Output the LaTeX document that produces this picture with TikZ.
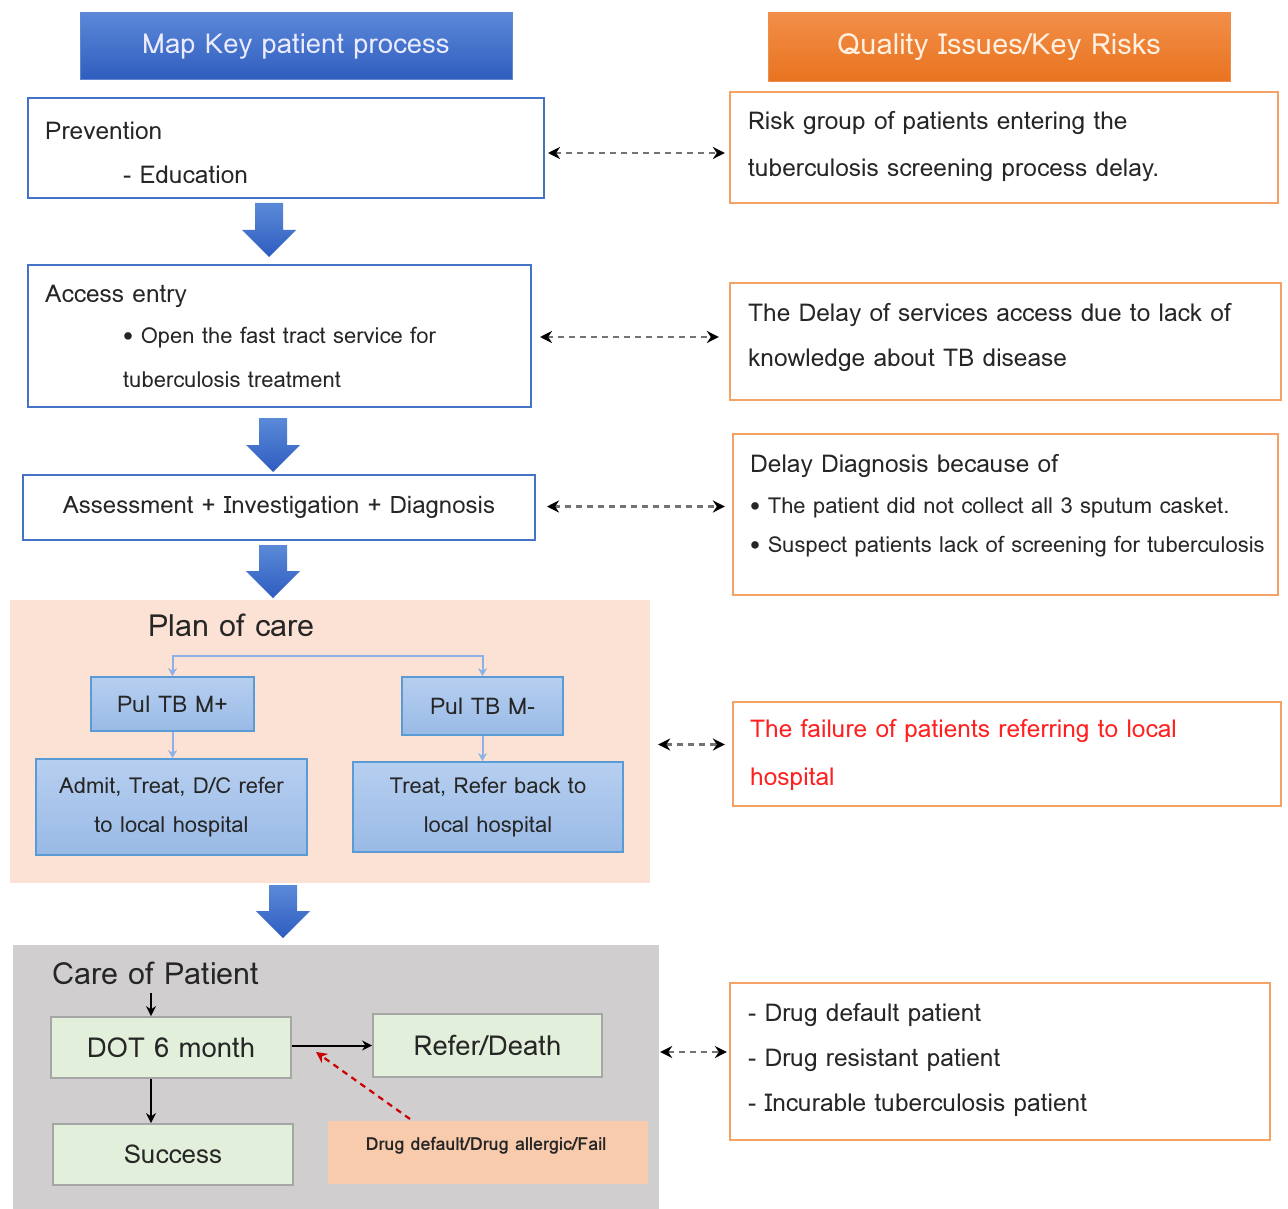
\documentclass[tikz,border=0pt]{standalone}
\usepackage{fontspec}
\setmainfont{Loma}
\usetikzlibrary{arrows.meta,calc}
\definecolor{hdrblue}{HTML}{3A69C6}
\definecolor{hdrbluetop}{HTML}{5B88D8}
\definecolor{hdrbluebot}{HTML}{2F5DBE}
\definecolor{hdrorgtop}{HTML}{F28E48}
\definecolor{hdrorgbot}{HTML}{E8731F}
\definecolor{boxblue}{HTML}{4472C4}
\definecolor{boxorange}{HTML}{F4A266}
\definecolor{planfill}{HTML}{FBE2D5}
\definecolor{carefill}{HTML}{D0CECE}
\definecolor{pultop}{HTML}{B7CFF0}
\definecolor{pulbot}{HTML}{99BAE6}
\definecolor{pulline}{HTML}{5B9BD5}
\definecolor{conblue}{HTML}{8DB1E6}
\definecolor{greenfill}{HTML}{E2EFDA}
\definecolor{greenline}{HTML}{A6A6A6}
\definecolor{drugfill}{HTML}{F8CBAD}
\definecolor{txtc}{HTML}{262626}
\definecolor{redtxt}{HTML}{FF2020}
\definecolor{arrtop}{HTML}{5B8AD8}
\definecolor{arrbot}{HTML}{2E5CC0}
\tikzset{
  hdrL/.style={draw=hdrblue!80!white, line width=1pt, top color=hdrbluetop, bottom color=hdrbluebot, text=white!92!blue, font=\fontsize{27.5}{32}\selectfont},
  hdrR/.style={draw=hdrorgbot!80!white, line width=1pt, top color=hdrorgtop, bottom color=hdrorgbot, text=white!88!orange, font=\fontsize{29}{34}\selectfont},
  procbox/.style={draw=boxblue, line width=2pt, fill=white},
  riskbox/.style={draw=boxorange, line width=2.2pt, fill=white},
  txt/.style={text=txtc, font=\fontsize{24.5}{28}\selectfont, inner sep=0pt, anchor=west},
  smtxt/.style={text=txtc, font=\fontsize{22}{26}\selectfont, inner sep=0pt, anchor=west},
  pulbox/.style={draw=pulline, line width=1.8pt, top color=pultop, bottom color=pulbot, text=txtc, font=\fontsize{22}{39}\selectfont, align=center},
  greenbox/.style={draw=greenline, line width=1.8pt, fill=greenfill, text=txtc, font=\fontsize{27.5}{32}\selectfont},
  title/.style={text=txtc, font=\fontsize{30.5}{36}\selectfont, inner sep=0pt, anchor=west},
  dbl/.style={draw=black!55, line width=2.4pt, dash pattern=on 6pt off 5pt, {Stealth[length=12pt,width=12pt,black]}-{Stealth[length=12pt,width=12pt,black]}},
  conn/.style={draw=conblue, line width=2pt, -{Stealth[length=8pt,width=9pt]}},
  blk/.style={draw=black, line width=2pt, -{Stealth[length=10pt,width=10pt]}},
  blockarr/.style={top color=arrtop, bottom color=arrbot, draw=none}
}
\newcommand{\blockarrow}[3]{% x, ytop, ytip
  \path[blockarr] (#1-14,#2) -- (#1+14,#2) -- (#1+14,#3-27) -- (#1+27,#3-27) -- (#1,#3) -- (#1-27,#3-27) -- (#1-14,#3-27) -- cycle;}
\begin{document}
\begin{tikzpicture}[x=1pt,y=-1pt]
\useasboundingbox (0,0) rectangle (1288,1209);
% headers
\node[hdrL, minimum width=432pt, minimum height=67pt] (hL) at (296,46.5) {Map Key patient process};
\node[hdrR, minimum width=462pt, minimum height=69pt] (hR) at (999,47.5) {Quality Issues/Key Risks};
% process boxes
\node[procbox, minimum width=516pt, minimum height=100pt] (prev) at (286,148) {};
\node[txt] at (45,131) {Prevention};
\node[txt] at (123,175) {- Education};
\node[procbox, minimum width=503pt, minimum height=142pt] (acc) at (279.5,336) {};
\node[txt] at (45,296) {Access entry};
\node[smtxt] at (123,338) {\textbullet\ Open the fast tract service for};
\node[smtxt] at (123,380) {tuberculosis treatment};
\node[procbox, minimum width=512pt, minimum height=65pt, text=txtc, font=\fontsize{24}{28}\selectfont] (ass) at (279,507.5) {Assessment + Investigation + Diagnosis};
% block arrows
\blockarrow{269}{203}{257}
\blockarrow{273}{418}{472}
\blockarrow{273}{545}{598}
\blockarrow{283}{885}{938}
% plan of care
\node[fill=planfill, minimum width=640pt, minimum height=283pt, inner sep=0pt] (plan) at (330,741.5) {};
\node[title] at (148,625) {Plan of care};
\node[pulbox, minimum width=163pt, minimum height=54pt, font=\fontsize{23}{28}\selectfont] (mp) at (172.5,704) {Pul TB M+};
\node[pulbox, minimum width=161pt, minimum height=58pt, font=\fontsize{23}{28}\selectfont] (mm) at (482.5,706) {Pul TB M-};
\node[pulbox, minimum width=271pt, minimum height=96pt] (adm) at (171.5,807) {Admit, Treat, D/C refer\\to local hospital};
\node[pulbox, minimum width=270pt, minimum height=90pt] (trt) at (488,807) {Treat, Refer back to\\local hospital};
\coordinate (split) at (330,656);
\draw[conn] (split) -| (mp.north);
\draw[conn] (split) -| (mm.north);
\draw[conn] (mp.south) -- (mp.south |- adm.north);
\draw[conn] (mm.south) -- (mm.south |- trt.north);
% care of patient
\node[fill=carefill, minimum width=646pt, minimum height=264pt, inner sep=0pt] (care) at (336,1077) {};
\node[title] (caret) at (52,973) {Care of Patient};
\node[greenbox, minimum width=240pt, minimum height=61pt] (dot) at (171,1047.5) {DOT 6 month};
\node[greenbox, minimum width=229pt, minimum height=63pt] (ref) at (487.5,1045.5) {Refer/Death};
\node[greenbox, minimum width=240pt, minimum height=61pt, font=\fontsize{26}{30}\selectfont] (suc) at (173,1154.5) {Success};
\node[fill=drugfill, minimum width=320pt, minimum height=63pt, inner sep=0pt] (drug) at (488,1152.5) {};
\node[text=txtc, font=\fontsize{18}{20}\selectfont\bfseries, inner sep=0pt] at (486,1146) {Drug default/Drug allergic/Fail};
\coordinate (ctop) at (151,993);
\draw[blk] (ctop) -- (ctop |- dot.north);
\draw[blk] (dot.south -| ctop) -- (suc.north -| ctop);
\draw[blk] (dot.east |- ref.west) -- (ref.west);
\coordinate (dfrom) at (410,1119);
\coordinate (dto) at (316,1052);
\draw[draw=red!80!black, line width=2.2pt, dash pattern=on 6pt off 5pt, -{Stealth[length=11pt,width=11pt]}] (dfrom) -- (dto);
% risk boxes
\node[riskbox, minimum width=548pt, minimum height=111pt] (r1) at (1004,147.5) {};
\node[txt] at (748,123) {Risk group of patients entering the};
\node[txt] at (748,170) {tuberculosis screening process delay.};
\node[riskbox, minimum width=551pt, minimum height=117pt] (r2) at (1005.5,341.5) {};
\node[txt] at (748,315) {The Delay of services access due to lack of};
\node[txt] at (748,360) {knowledge about TB disease};
\node[riskbox, minimum width=545pt, minimum height=161pt] (r3) at (1005.5,514.5) {};
\node[txt] at (750,466) {Delay Diagnosis because of};
\node[smtxt] at (750,508) {\textbullet\ The patient did not collect all 3 sputum casket.};
\node[smtxt] at (750,547) {\textbullet\ Suspect patients lack of screening for tuberculosis};
\node[riskbox, minimum width=548pt, minimum height=104pt] (r4) at (1007,754) {};
\node[txt, text=redtxt] at (750,731) {The failure of patients referring to local};
\node[txt, text=redtxt] at (750,779) {hospital};
\node[riskbox, minimum width=540pt, minimum height=157pt] (r5) at (1000,1061.5) {};
\node[txt] at (748,1015) {- Drug default patient};
\node[txt] at (748,1060) {- Drug resistant patient};
\node[txt] at (748,1105) {- Incurable tuberculosis patient};
% dashed links
\coordinate (a1) at ($(prev.east)+(0,5)$);   \coordinate (b1) at (a1 -| r1.west);
\coordinate (a2) at ($(acc.east)+(0,1)$);    \coordinate (b2) at (a2 -| r2.west);
\coordinate (a3) at ($(ass.east)+(0,-1)$);   \coordinate (b3) at (a3 -| r3.west);
\coordinate (a4) at ($(plan.east)+(0,3)$);   \coordinate (b4) at (a4 -| r4.west);
\coordinate (a5) at ($(care.east)+(0,-25)$); \coordinate (b5) at (a5 -| r5.west);
\draw[dbl, shorten <=3pt, shorten >=4pt] (a1) -- (b1);
\draw[dbl, shorten <=8pt, shorten >=10pt] (a2) -- (b2);
\draw[dbl, shorten <=11pt, shorten >=7pt] (a3) -- (b3);
\draw[dbl, shorten <=8pt, shorten >=7pt] (a4) -- (b4);
\draw[dbl, shorten <=1pt, shorten >=2pt] (a5) -- (b5);
\end{tikzpicture}
\end{document}
